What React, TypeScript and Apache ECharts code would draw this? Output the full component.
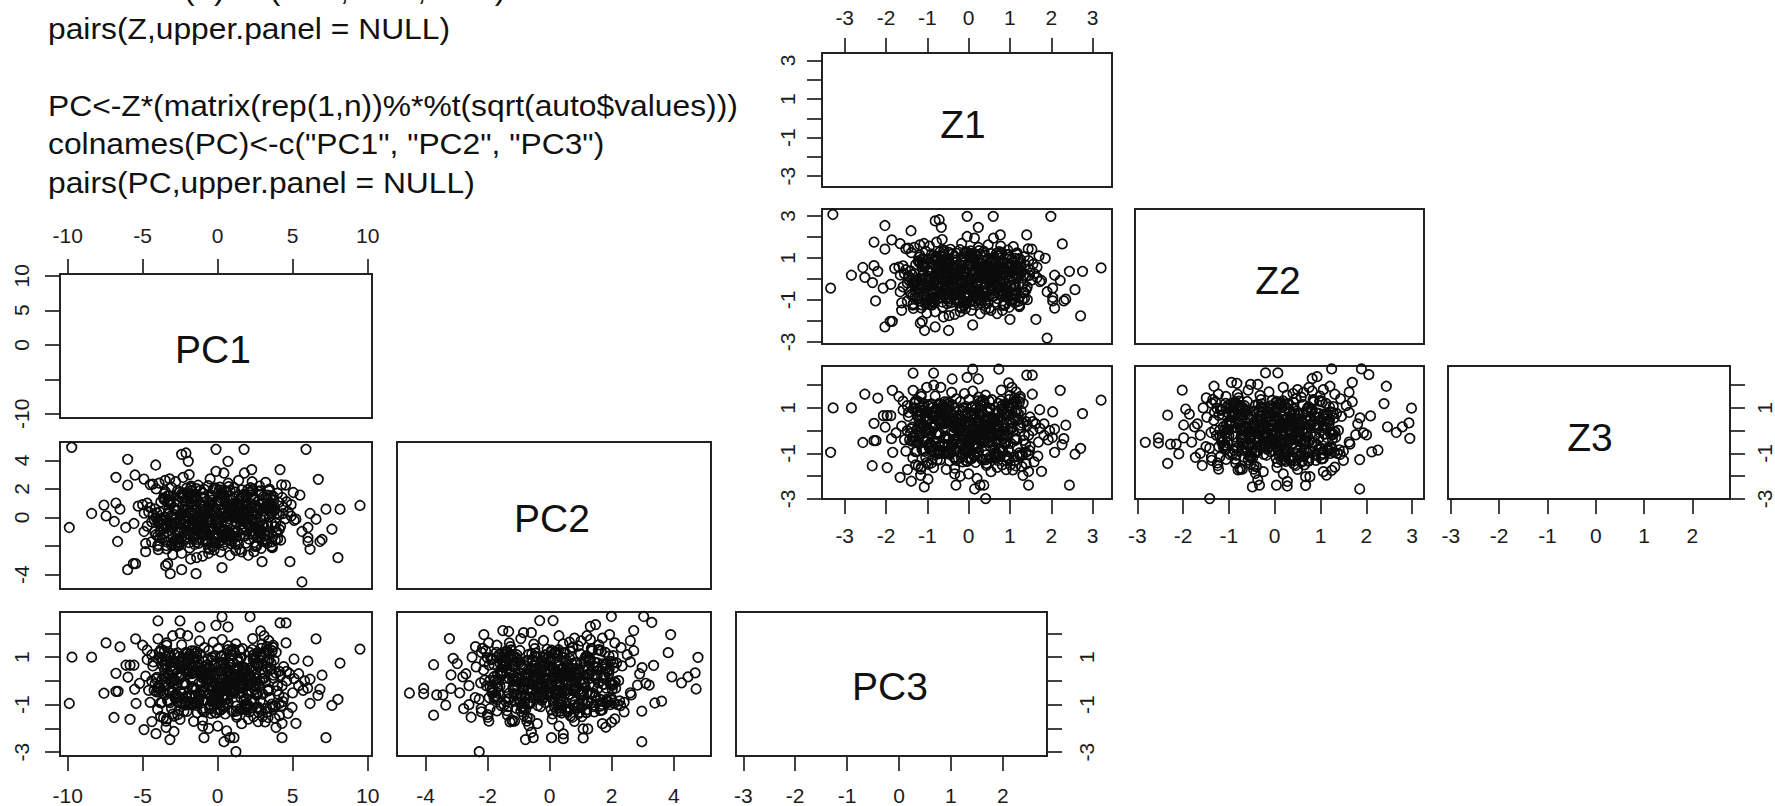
import React, { useEffect, useRef } from "react";
import * as echarts from "echarts";

const sqrtEigen = [2.96, 1.6, 1.0];

const codeLines = [
  'colnames(Z)<-c("Z1", "Z2", "Z3")',
  "pairs(Z,upper.panel = NULL)",
  "",
  "PC<-Z*(matrix(rep(1,n))%*%t(sqrt(auto$values)))",
  'colnames(PC)<-c("PC1", "PC2", "PC3")',
  "pairs(PC,upper.panel = NULL)",
];

// Estimated dense middle of the cloud (Z scale)
const coreZ1 = [
  -0.12,0.45,-0.83,0.07,1.12,-0.36,0.64,-1.27,0.22,-0.55,0.91,-0.04,0.33,-0.98,
  0.58,-0.21,1.38,-0.67,0.14,-1.09,0.41,0.02,-0.44,0.77,-1.41,0.26,-0.15,1.03,
  -0.72,0.51,-0.29,0.86,-0.09,-1.18,0.37,1.24,-0.51,0.18,-0.88,0.69,-0.33,0.05,
  1.47,-0.62,0.29,-1.33,0.48,-0.18,0.95,-0.77,0.11,-0.41,0.72,-1.02,0.35,-0.07,
  0.83,-0.25,0.16,-0.59,1.19,-1.22,0.54,-0.02,-0.93,0.39,-0.47,0.63,1.31,-0.11,
  0.24,-0.7,0.09,-1.46,0.88,-0.31,0.46,-0.85,1.07,-0.19,0.31,-0.53,0.67,-1.13,
  0.03,0.79,-0.38,-0.06,1.42,-0.79,0.2,-0.48,0.98,-1.05,0.56,-0.23,0.12,-0.65,
  1.15,-0.14,0.43,-1.37,0.74,-0.43,0.28,-0.91,0.6,-0.01,-0.57,1.27,-0.27,0.15,
  -1.15,0.52,-0.74,0.93,0.08,-0.34,0.7,-0.96,0.38,-0.16,1.09,-0.6,0.23,-1.3,
  0.49,-0.08,0.81,-0.45,0.17,1.35,-0.81,0.3,-0.2,-1.0,0.66,-0.39,0.04,0.89,
  -0.68,1.21,-0.13,0.42,-1.24,0.57,-0.3,0.1,-0.86,0.75,-0.52,1.01,0.25,-0.03,
  -1.11,0.61,-0.42,0.19,1.44,-0.75,0.34,-0.22,0.84,-0.94,0.06,-0.5,0.53,-1.39,
  1.17,-0.1,0.4,-0.63,0.71,-0.26,0.13,-1.07,0.96,-0.37,0.27,-0.8,1.29,-0.17,
  0.47,-0.56,0.01,-1.2,0.65,-0.32,0.85,-0.71,0.21,-0.05,1.05,-0.46,0.36,-0.9,
  0.59,-1.35,0.1,-0.24,0.78,-0.64,1.33,0.32,-0.11,-1.03,0.5,-0.4,0.16,0.92,
  -0.76,0.44,-0.07,1.11,-0.54,0.25,-1.16,0.68,-0.28,0.06,-0.84,0.87,-0.35,0.55,
  -0.15,1.23,-0.66,0.2,-1.29,0.39,-0.03,0.73,-0.49,0.13,-0.97,1.0,-0.21,0.62,
  -0.43,-1.43,0.31,0.8,-0.13,-0.73,0.46,1.39,-0.3,0.08,-0.58,0.9,-1.08,0.22,
  -0.19,0.56,-0.87,0.35,1.13,-0.09,-0.61,0.17,0.76,-1.25,0.43,-0.36,0.03,0.97,
  -0.78,0.28,-0.01,-0.47,1.26,0.64,-1.01,0.12,-0.24,0.82,-0.55,0.37,-0.69,0.51,
  -1.12,-0.84,0.92,-0.52,1.02,-0.98,0.66,-1.2,-0.64,0.84,-0.1,1.16,-0.74,
  0.3,-1.06,0.56,-0.88,-0.24,0.98,-0.42,0.18,-1.28,0.74,-0.6,1.08,0.44,
  -0.92,-0.3,0.62,-1.16,0.06,0.88,-0.7,-0.16,1.24,-0.5,0.38,-1.02,-0.78,
  0.7,0.2,-1.22,-0.36,1.12,-0.82,0.5,-0.04,-0.96,0.8,-0.58,0.14,-1.1,
  0.94,-0.26,-0.68,1.3,0.34,-1.32,-0.46,0.6,-0.9,0.02,1.04,-0.72,0.26,
  -1.04,-0.2,0.76,-0.54,1.18,-1.24,0.4,-0.8,0.1,0.86,-0.34,-1.14,0.54,
  -0.62,1.0,-0.12,-0.94,0.48,-1.3,0.68,-0.44,0.22,1.2,-0.76,-0.06,0.82,
  -1.08,0.32,-0.56,0.96,-0.86,-0.28,1.1,-1.18,0.58,0.12,-0.66,0.78,-0.38,
  -1.26,0.42,0.9,-0.48,-0.98,0.24,1.06,-0.72,-0.14,0.64,-1.0,0.36,-0.32,
  0.72,-0.84,1.14,-1.34,0.16,-0.52,0.52,-0.08,-1.06,0.99,-0.6,0.28,-0.24,
  -0.88,0.46,1.26,-0.4,-1.2,0.66,0.0,-0.7,0.84,-0.18,-1.12,0.38,1.02,
  -0.5,0.08,-0.92,0.74,-1.38,-0.3,0.56,1.16,-0.64,-0.02,0.92,-1.02,0.2,
  -0.42,-0.82,1.08,0.3,-1.22,0.62,-0.54,0.14,0.8,-0.96,-0.22,1.22,-0.74,
  0.5,-1.1,-0.34,0.94,0.04,-0.58,0.7,-1.3,0.26,-0.9,0.86,-0.12,-0.46,
  1.12,-1.16,0.4,-0.68,0.6,-0.28,-1.04,0.18,0.98,-0.8,-0.06,0.76,-1.26,
];
const coreZ2 = [
  0.31,-0.62,0.08,1.04,-0.27,0.53,-1.12,-0.05,0.77,-0.41,0.19,1.26,-0.83,0.42,
  -0.16,-1.31,0.66,0.02,-0.55,0.94,0.27,-0.73,1.41,-0.09,0.38,-1.0,0.59,-0.34,
  0.12,0.81,-0.47,-1.2,0.24,1.13,-0.68,0.46,-0.11,0.7,-0.92,0.05,-0.38,1.33,
  0.17,-0.78,0.55,-0.21,0.97,-1.38,0.34,-0.02,-0.59,0.63,1.09,-0.29,0.14,-0.87,
  0.48,-0.13,-1.06,0.85,0.22,-0.45,1.21,-0.66,0.03,0.39,-0.96,0.72,-0.24,-1.27,
  0.58,0.1,-0.36,1.46,-0.52,0.29,-0.07,0.9,-0.8,0.44,-1.15,0.16,-0.31,0.68,
  1.17,-0.58,-0.03,0.36,-0.99,0.51,-0.18,0.83,-1.35,0.07,0.25,-0.7,1.02,-0.43,
  0.6,-0.14,-0.85,0.2,1.3,-0.49,0.41,-1.08,-0.01,0.75,-0.26,0.33,-0.63,0.92,
  -1.23,0.13,0.5,-0.39,1.07,-0.76,0.28,-0.08,0.64,-0.5,-0.94,1.37,0.18,-0.2,
  0.43,-1.42,0.79,-0.33,0.06,-0.65,0.99,0.3,-0.12,-0.89,0.56,1.19,-0.44,0.09,
  -0.72,0.37,-1.1,0.21,-0.28,0.87,0.47,-0.57,1.1,-0.04,-1.18,0.65,0.15,-0.37,
  0.74,-0.82,0.26,-0.17,1.43,-0.6,0.04,-1.03,0.52,0.32,-0.48,0.96,-0.1,-0.75,
  1.24,0.4,-0.23,-1.33,0.61,0.11,-0.53,0.78,-0.91,0.35,-0.06,1.06,-0.4,0.23,
  -1.16,0.69,-0.3,0.01,0.88,-0.64,0.45,-0.19,-0.97,1.28,0.13,-0.51,0.57,-1.25,
  0.28,-0.15,0.82,-0.71,1.15,-0.35,0.19,-0.86,0.49,-0.02,-1.39,0.62,0.38,-0.56,
  1.0,-0.25,0.08,-0.79,0.54,1.35,-0.46,0.16,-1.05,0.73,-0.11,0.31,-0.67,0.89,
  -0.22,-1.29,0.44,0.05,-0.6,1.12,0.24,-0.42,0.71,-0.88,0.12,-0.32,1.39,0.5,
  -1.13,-0.09,0.34,-0.74,0.95,-0.16,0.59,-0.52,1.23,-1.0,0.2,0.41,-0.28,-0.81,
  0.67,0.03,-1.22,0.86,-0.37,0.27,1.05,-0.54,0.14,-0.93,0.46,-0.06,0.76,-0.69,
  0.36,1.18,-0.2,-1.07,0.55,0.1,-0.43,0.91,-0.77,0.22,-0.13,1.31,-0.58,0.4,
  0.96,-0.44,1.14,-0.86,0.62,-1.02,0.18,0.78,-0.3,-0.7,1.24,0.02,-0.92,
  0.5,-0.56,0.84,-1.1,0.34,1.02,-0.18,-0.78,0.68,-0.38,1.18,-0.96,0.1,
  -0.62,0.9,0.26,-1.06,0.72,-0.24,1.28,-0.48,-0.84,0.44,0.04,-1.14,1.08,
  -0.34,0.58,-0.74,0.14,0.98,-0.9,0.38,-0.12,-1.2,0.8,-0.52,1.2,0.22,
  -0.66,-0.02,1.1,-0.98,0.54,-0.28,0.74,-0.8,0.3,-1.08,0.92,-0.4,0.06,
  1.32,-0.6,0.46,-0.94,0.64,-0.14,-1.16,0.86,0.16,-0.72,1.06,-0.32,-0.5,
  0.28,-1.04,0.76,-0.2,0.52,-0.88,1.22,-0.08,-0.58,0.96,0.36,-1.12,-0.42,
  0.66,0.12,-0.76,1.16,-0.26,-0.98,0.42,0.82,-0.54,-1.22,0.2,1.0,-0.68,
  -0.06,0.56,-0.86,1.26,-0.36,0.08,-1.0,0.7,-0.46,0.32,0.94,-0.82,-0.16,
  1.12,-0.64,0.48,-1.18,0.24,0.84,-0.3,-0.92,0.6,-0.1,1.3,-0.74,0.4,
  -1.06,0.0,0.78,-0.5,1.04,-0.22,-0.84,0.34,-1.26,0.9,0.14,-0.56,0.62,
  -0.38,1.2,-0.96,0.5,-0.04,-0.7,0.98,0.28,-1.1,-0.28,0.74,-0.44,1.14,
  0.06,-0.88,0.44,-1.02,0.86,-0.18,0.58,-0.62,1.24,-0.34,-1.14,0.18,0.68,
  -0.78,0.38,1.08,-0.52,-0.12,0.92,-0.94,0.24,-0.66,1.18,0.54,-1.04,-0.24,
  0.8,-0.42,0.1,-0.86,1.02,0.3,-1.2,0.64,-0.58,0.16,1.28,-0.72,-0.08,
];
const coreZ3 = [
  -0.41,0.86,0.14,-1.23,0.52,-0.07,-0.73,1.33,0.28,-0.95,0.61,-0.19,1.07,-1.48,
  0.36,0.03,-0.58,0.92,-1.09,0.21,1.56,-0.33,-0.84,0.47,-0.12,0.74,-1.37,0.09,
  1.19,-0.52,0.31,-0.25,-1.02,0.66,0.17,1.41,-0.68,-0.04,0.83,-1.61,0.43,-0.3,
  -0.87,1.12,0.24,-0.46,0.58,-1.17,0.01,0.97,-0.62,1.68,-0.15,0.39,-1.29,0.71,
  -0.36,0.12,-0.79,1.26,0.49,-1.55,-0.09,0.8,-0.55,0.26,1.03,-0.98,0.33,-0.21,
  1.47,-0.7,0.06,0.63,-1.12,-0.43,0.92,0.19,-1.72,0.54,-0.28,1.15,-0.01,-0.82,
  0.4,1.78,-0.6,-1.33,0.23,0.77,-0.16,-0.93,1.37,0.1,-0.49,0.68,-1.06,0.29,
  -0.35,1.0,-1.44,0.15,0.56,-0.75,1.24,-0.1,0.44,-1.21,-0.24,0.87,0.05,-0.64,
  1.6,0.34,-0.89,-0.13,0.72,-1.65,0.22,1.09,-0.47,-0.03,0.6,-1.0,1.31,-0.31,
  0.16,-0.77,0.95,0.42,-1.39,-0.2,1.52,0.07,-0.57,0.81,-1.14,0.3,-0.39,1.18,
  -0.86,0.5,0.02,-1.27,0.65,-0.26,1.4,-0.66,0.18,-0.11,0.89,-1.5,0.37,-0.44,
  1.05,0.13,-0.8,0.57,-1.04,-0.06,1.29,-0.53,0.27,0.75,-1.19,-0.34,0.98,0.08,
  -0.71,1.63,-0.17,0.46,-1.31,0.2,0.69,-0.91,1.11,-0.38,-0.02,0.59,-1.58,0.32,
  -0.5,0.84,1.36,-0.23,-1.08,0.11,0.73,-0.65,0.41,-0.14,1.22,-0.96,0.25,-1.42,
  0.55,-0.29,1.74,0.04,-0.78,0.9,-0.42,-1.25,0.35,0.64,-0.08,1.14,-0.59,-1.11,
  0.48,0.15,-0.85,1.44,-0.32,0.76,-1.69,-0.18,0.28,1.02,-0.45,0.09,-1.16,0.62,
  -0.69,1.27,0.38,-0.05,-0.92,0.51,-1.35,0.17,0.94,-0.27,-0.61,1.55,0.01,-1.01,
  0.7,-0.4,0.23,1.08,-0.83,-0.12,0.45,-1.46,0.82,-0.22,0.31,-0.56,1.17,-0.76,
  0.06,-1.2,0.67,1.34,-0.37,0.19,-0.99,0.53,-0.09,0.88,-1.53,0.26,-0.48,1.01,
  -0.15,0.4,-0.72,1.2,0.12,-1.1,-0.3,0.78,0.33,-0.88,0.6,-0.04,-1.28,0.96,
  0.24,-0.94,0.72,1.26,-0.56,0.06,-1.14,0.48,1.04,-0.34,-0.8,0.88,-1.02,
  -0.18,0.6,1.36,-0.66,0.3,-1.24,-0.08,0.96,-0.44,0.16,-0.9,1.16,0.42,
  -0.74,-1.3,0.54,1.0,-0.26,-0.6,0.78,0.1,-1.08,0.36,1.22,-0.5,-0.14,
  0.84,-0.98,0.2,-0.38,1.3,0.66,-1.18,-0.7,0.02,0.92,-0.3,0.5,-0.86,
  1.1,-0.48,0.28,-1.04,0.74,-0.22,-1.34,0.44,1.18,-0.62,0.12,-0.96,0.58,
  -0.06,1.28,-0.78,0.34,-1.12,0.82,-0.4,0.22,1.06,-0.54,-1.22,0.68,-0.16,
  0.98,0.08,-0.88,0.52,-0.32,1.24,-1.0,0.4,-0.64,0.76,-1.28,0.18,1.12,
  -0.46,-0.1,0.62,-0.84,1.02,0.26,-1.16,0.9,-0.24,-0.7,0.46,1.32,-0.58,
  0.04,-1.06,0.7,-0.36,1.14,-0.92,0.32,-0.12,0.86,-1.2,0.56,-0.52,-0.82,
  1.2,0.14,-0.42,0.94,-1.1,0.38,-0.68,0.64,-0.02,1.08,-0.94,-0.28,0.5,
  -1.26,0.8,0.24,-0.56,1.26,-0.2,-0.76,0.42,0.98,-1.02,0.1,-0.34,0.72,
  -0.9,1.04,0.3,-1.14,-0.46,0.6,-0.08,1.18,-0.66,0.2,-1.32,0.84,-0.3,
  0.54,-0.86,0.0,1.1,-0.5,-1.08,0.36,0.76,-0.16,-0.72,0.92,-0.98,0.46,
  1.3,-0.38,0.12,-1.2,0.66,-0.6,0.28,1.0,-0.04,-0.88,0.52,-0.26,-1.04,
  0.82,0.18,-0.44,1.16,-0.78,0.4,-1.16,-0.12,0.7,-0.54,1.06,0.06,-0.92,
];

// Visible outer points
const outerPC1PC2 = [
  [-9.73,4.91],[-0.11,4.77],[1.76,4.77],[5.89,4.77],[-6,4.07],[-4.13,3.67],[-2.4,4.42],[-2.11,4.51],[-1.96,3.93],[0.69,3.93],
  [4.16,3.35],[-0.11,3.23],[0.42,3.11],[2.27,3.35],[1.78,3.11],[-6.78,2.81],[-5.51,2.97],[-4.91,2.69],[6.71,2.67],[-6,2.27],
  [4.53,2.27],[3.2,2.46],[5.49,1.57],[5.04,1.75],[-7.58,0.87],[-6.78,1.01],[-8.4,0.28],[-7.44,0.12],[-6.51,0.58],[-6.89,-0.28],
  [-9.89,-0.7],[-6.13,-0.7],[-5.58,-0.42],[-6.67,-1.68],[-4.91,-0.98],[-4.8,-1.82],[-4.8,-2.39],[-3.96,-2.25],[-6,-3.65],[-5.62,-3.23],
  [-5.47,-3.23],[-3.47,-3.37],[-3.33,-3.23],[-3.16,-3.93],[-2.4,-3.65],[-1.44,-3.93],[0.29,-3.51],[2.96,-3.09],[4.82,-3.09],[5.62,-4.51],
  [8.02,-2.81],[7.22,0.58],[8.16,0.58],[9.49,0.84],[6.16,0.28],[6.56,-0.12],[7.62,-0.82],[6.02,-0.7],[5.62,-0.98],[6.02,-1.4],
  [6.16,-2.22],[6.96,-1.54],[6.82,-1.68],[6.02,-1.68],[5.22,-0.12],[0.82,-2.64],[2.04,-2.64],[2.42,-2.39],[3.64,-2.11],
  [3.4,1.9],[3.7,1.5],[4,1.7],[4.3,1.4],[4.6,1.1],[4.9,0.9],[4.4,0.7],[4.7,0.4],[4.1,0.2],[4.5,-0.1],
  [4.9,0.1],[5.1,-0.2],[3.6,-0.4],[4.2,-0.6],[3.9,-1],[4,-1.5],[3.6,-1.7],[3.4,-1.2],[3.5,0.9],[3.8,0.5],
  [3.6,-2],[3.3,-1.8],[-4.5,2.3],[-4.1,2],[-3.9,2.4],[-3.5,2.6],[-3.2,2.7],[-2.8,2.5],[-2.3,2.8],[-1.9,3],
  [-5,0.9],[-4.7,1],[-4.5,0.7],[-5.3,0.8],[-4.6,0.4],[-4.9,0.3],[-4.3,0.2],[-4.4,-0.3],[-4.7,-0.6],[-4.2,-1],
  [-4,-1.3],[-4.4,-1.7],[-4,-2],[-3.4,-2.2],[-3,-2.6],[-2.4,-2.5],[-1.8,-2.9],[-1.4,-2.8],[-1,-2.7],[-0.6,-2.5],
  [0.2,-2.4],[1.2,-2.3],[1.6,-2.4],[2.6,-2],[-0.5,2.7],[0.7,2.4],[1.4,2.6],[2.3,2.5],[2.8,2.2],
];
const outerPC1PC3 = [
  [0.29,2.7],[2.16,2.7],[-3.98,2.53],[-2.51,2.53],[4.16,2.44],[4.56,2.44],[-1.18,2.27],[-0.11,2.34],[0.69,2.27],[2.87,2.1],
  [-7.44,1.6],[-6.51,1.43],[-5.47,1.77],[-3.98,1.77],[6.56,1.77],[4.56,1.6],[9.49,1.34],[-9.71,1],[-8.4,1],[5.09,0.92],
  [6.02,0.83],[8.16,0.75],[-6.78,0.32],[6.96,0.24],[6.16,0.07],[-6.11,0.66],[-5.84,0.66],[-5.58,0.66],[-5.98,0.16],[-7.58,-0.52],
  [-6.78,-0.44],[-6.64,-0.44],[-5.53,-0.35],[6.82,-0.35],[8.02,-0.78],[7.62,-1.03],[6.69,-0.61],[6.16,-0.95],[-9.89,-0.95],[-5.44,-0.95],
  [-6.91,-1.54],[-5.84,-1.62],[-4.38,-1.71],[-4.91,-2.05],[-4.11,-2.22],[-2.91,-2.13],[-3.18,-2.47],[-0.91,-2.39],[0.42,-2.56],[0.82,-2.39],
  [1.09,-2.39],[1.22,-2.98],[4.29,-2.39],[7.22,-2.39],[3.89,-1.96],[4.29,-1.79],[5.22,-1.79],[3.36,-1.54],[4.69,-1.37],[4.96,-1.12],
  [4.11,-0.95],[2.69,-1.71],[-2.51,-1.62],[-3.44,-1.96],
  [3.7,1.5],[3.9,1.2],[3.4,1.7],[3.1,1.9],[4.4,0.6],[4.8,0.3],[4.1,0.4],[4.6,0],[4.3,-0.2],[5.1,0.1],
  [5.4,-0.2],[5.7,-0.4],[5,-0.5],[4.4,-0.7],[3.7,-1.1],[3.3,-1.3],[4.6,0.4],[5.4,0.3],[5.8,0],[6,-0.3],
  [-5,1.5],[-4.7,1.3],[-4.4,1.1],[-4.7,0.9],[-4.3,0.8],[-3.9,1.2],[-3.4,1.5],[-3,1.9],[-2.5,2],[-2,1.9],
  [-5.2,-0.1],[-4.8,0.2],[-4.6,-0.4],[-4.4,0],[-4.5,-0.9],[-4,-1.2],[-3.8,-1.5],[-3.4,-1.6],[-3,-1.4],[-1.6,-1.7],
  [-1,-1.9],[-0.6,-2],[0,-1.9],[0.6,-2.1],[1.6,-1.8],[2.4,-1.5],
];
const outerPC2PC3 = [
  [1.99,2.71],[3.03,2.71],[3.29,2.46],[-0.32,2.54],[0.11,2.54],[1.48,2.37],[1.31,2.29],[2.71,2.12],[3.9,1.95],[1.93,1.95],
  [-3.23,1.78],[-2.12,1.95],[-1.51,2.12],[-1.32,2.08],[-0.84,2.03],[-0.59,2.03],[-2.39,1.44],[2.6,1.69],[2.71,1.27],[3.82,1.19],
  [4.78,0.99],[-3.11,0.95],[-2.98,0.73],[-3.74,0.68],[3.35,0.65],[2.98,0.56],[3.94,0.17],[4.25,-0.08],[4.46,0.17],[4.69,0.34],
  [4.72,-0.34],[3.21,-0.18],[2.83,-0.18],[2.63,-0.59],[3.61,-0.85],[3.39,-0.93],[2.97,-1.27],[-3.74,-1.44],[-3.35,-1.02],[-4.52,-0.51],
  [-4.06,-0.32],[-4.06,-0.54],[-3.64,-0.59],[-3.44,-0.59],[-3.18,-0.32],[-2.8,0.17],[-3.18,0.25],[-2.37,0.59],[-2.77,-1.17],[-2.53,-1.53],
  [-1.99,-1.53],[-1.96,-1.69],[-1.13,-1.69],[-0.67,-1.88],[-0.78,-2.47],[-0.53,-2.39],[0.06,-2.39],[0.44,-2.23],[0.44,-2.43],[1.08,-2.4],
  [1.08,-2.02],[1.23,-2.02],[1.81,-1.95],[2.97,-2.56],[-2.27,-2.98],[1.99,-1.74],[-0.59,-2.16],
  [-2.7,0.3],[-2.5,1],[-2.2,1.2],[-2.6,-0.2],[-2.9,-0.5],[-2.4,-0.7],[-2.6,-1],[-2.2,-1.3],[-1.7,1.5],[-1.3,1.6],
  [-2.1,0.8],[2.6,0.8],[2.9,0.3],[3.1,-0.1],[2.6,-0.5],[2.4,-0.9],[2.4,-1.3],[2.1,-1.6],[1.7,-1.8],[2.5,1.1],
  [2.3,1.4],[2.1,1.6],[1.7,1.8],[1.2,1.9],[0.8,1.8],[0.3,1.9],[-0.2,1.7],[-1.2,-1.7],[-0.4,-1.8],[0.3,-1.9],[0.8,-1.7],
];

const ticksPC1 = [-10, -5, 0, 5, 10];
const ticksPC2X = [-4, -2, 0, 2, 4];
const ticksPC2Y = [-4, -2, 0, 2, 4];
const labelsPC2Y = [-4, 0, 2, 4];
const labelsPC1Y = [-10, 0, 5, 10];
const ticksLow = [-3, -2, -1, 0, 1, 2];
const ticksFull = [-3, -2, -1, 0, 1, 2, 3];
const labelsOdd = [-3, -1, 1];
const labelsOddFull = [-3, -1, 1, 3];

const FONT = "'Liberation Sans', Arial, sans-serif";
const INK = "#222";

type Side = { pos: string; ticks: number[]; labels: number[]; margin: number } | null;
type Panel = {
  box: [number, number, number, number];
  x: [number, number];
  y: [number, number];
  xa: Side;
  ya: Side;
  points?: number[][];
  name?: string;
  namePos?: [number, number];
};

function axisOf(side: Side, idx: number, dom: [number, number], isY: boolean) {
  const tick = side
    ? { show: true, inside: false, length: 15, customValues: side.ticks, lineStyle: { color: INK, width: 1.7 } }
    : { show: false };
  const label = side
    ? {
        show: true,
        customValues: side.labels,
        margin: side.margin,
        fontSize: 21,
        fontFamily: FONT,
        color: "#1c1c1c",
        rotate: isY ? 90 : 0,
      }
    : { show: false };
  return {
    type: "value",
    gridIndex: idx,
    min: dom[0],
    max: dom[1],
    position: side ? side.pos : isY ? "left" : "bottom",
    axisLine: { show: false, onZero: false },
    splitLine: { show: false },
    axisTick: tick,
    axisLabel: label,
  };
}

function combine(outer: number[][], cx: number[], cy: number[], kx: number, ky: number, toZ: boolean) {
  // outer points are on the PC scale, core points on the Z scale
  const o1 = toZ ? 1 / kx : 1;
  const o2 = toZ ? 1 / ky : 1;
  const c1 = toZ ? 1 : kx;
  const c2 = toZ ? 1 : ky;
  return [
    ...cx.map((v, i) => [v * c1, cy[i] * c2]),
    ...outer.map((p) => [p[0] * o1, p[1] * o2]),
  ];
}

const [k1, k2, k3] = sqrtEigen;
const pairPC12 = combine(outerPC1PC2, coreZ1, coreZ2, k1, k2, false);
const pairPC13 = combine(outerPC1PC3, coreZ1, coreZ3, k1, k3, false);
const pairPC23 = combine(outerPC2PC3, coreZ2, coreZ3, k2, k3, false);
const pairZ12 = combine(outerPC1PC2, coreZ1, coreZ2, k1, k2, true);
const pairZ13 = combine(outerPC1PC3, coreZ1, coreZ3, k1, k3, true);
const pairZ23 = combine(outerPC2PC3, coreZ2, coreZ3, k2, k3, true);

const pcX1: [number, number] = [-10.51, 10.29];
const pcX2: [number, number] = [-4.92, 5.2];
const pcX3: [number, number] = [-3.14, 2.85];
const pcY1: [number, number] = [-10.6, 10.25];
const pcY2: [number, number] = [-5.0, 5.28];
const pcY3: [number, number] = [-3.16, 2.9];
const zX1: [number, number] = [-3.55, 3.47];
const zX2: [number, number] = [-3.05, 3.26];
const zX3: [number, number] = [-3.06, 2.78];
const zY1: [number, number] = [-3.56, 3.39];
const zY2: [number, number] = [-3.1, 3.33];
const zY3: [number, number] = [-3.0, 2.84];

const panels: Panel[] = [
  { box: [60, 274, 372, 418], x: pcX1, y: pcY1, xa: { pos: "top", ticks: ticksPC1, labels: ticksPC1, margin: 28 }, ya: { pos: "left", ticks: ticksPC1, labels: labelsPC1Y, margin: 28 }, name: "PC1", namePos: [213, 349] },
  { box: [60, 442, 372, 589], x: pcX1, y: pcY2, xa: null, ya: { pos: "left", ticks: ticksPC2Y, labels: labelsPC2Y, margin: 28 }, points: pairPC12 },
  { box: [397, 442, 711, 589], x: pcX2, y: pcY2, xa: null, ya: null, name: "PC2", namePos: [552, 518] },
  { box: [60, 612, 372, 756], x: pcX1, y: pcY3, xa: { pos: "bottom", ticks: ticksPC1, labels: ticksPC1, margin: 29 }, ya: { pos: "left", ticks: ticksLow, labels: labelsOdd, margin: 28 }, points: pairPC13 },
  { box: [397, 612, 711, 756], x: pcX2, y: pcY3, xa: { pos: "bottom", ticks: ticksPC2X, labels: ticksPC2X, margin: 29 }, ya: null, points: pairPC23 },
  { box: [736, 612, 1047, 756], x: pcX3, y: pcY3, xa: { pos: "bottom", ticks: ticksLow, labels: ticksLow, margin: 29 }, ya: { pos: "right", ticks: ticksLow, labels: labelsOdd, margin: 29 }, name: "PC3", namePos: [890, 686] },
  { box: [822, 53, 1112, 187], x: zX1, y: zY1, xa: { pos: "top", ticks: ticksFull, labels: ticksFull, margin: 25 }, ya: { pos: "left", ticks: ticksFull, labels: labelsOddFull, margin: 24 }, name: "Z1", namePos: [963, 124] },
  { box: [822, 209, 1112, 344], x: zX1, y: zY2, xa: null, ya: { pos: "left", ticks: ticksFull, labels: labelsOddFull, margin: 24 }, points: pairZ12 },
  { box: [1135, 209, 1424, 344], x: zX2, y: zY2, xa: null, ya: null, name: "Z2", namePos: [1278, 280] },
  { box: [822, 366, 1112, 499], x: zX1, y: zY3, xa: { pos: "bottom", ticks: ticksFull, labels: ticksFull, margin: 26 }, ya: { pos: "left", ticks: ticksLow, labels: labelsOdd, margin: 24 }, points: pairZ13 },
  { box: [1135, 366, 1424, 499], x: zX2, y: zY3, xa: { pos: "bottom", ticks: ticksFull, labels: ticksFull, margin: 26 }, ya: null, points: pairZ23 },
  { box: [1448, 366, 1737, 499], x: zX3, y: zY3, xa: { pos: "bottom", ticks: ticksLow, labels: ticksLow, margin: 26 }, ya: { pos: "right", ticks: ticksLow, labels: labelsOdd, margin: 24 }, name: "Z3", namePos: [1590, 437] },
];

export default function App() {
  const ref = useRef<HTMLDivElement>(null);
  useEffect(() => {
    document.body.style.margin = "0";
    const chart = echarts.init(ref.current!, undefined, { renderer: "svg" });
    const graphics: any[] = [];
    codeLines.forEach((t, i) => {
      if (!t) return;
      graphics.push({
        type: "text",
        x: 48,
        y: -10 + i * 38.5,
        scaleX: 1.06,
        style: { text: t, font: `30px ${FONT}`, fill: "#111", verticalAlign: "middle" },
      });
    });
    panels.forEach((p) => {
      if (p.name)
        graphics.push({
          type: "text",
          x: p.namePos![0],
          y: p.namePos![1],
          style: { text: p.name, font: `39px ${FONT}`, fill: "#111", align: "center", verticalAlign: "middle" },
        });
    });
    const series: any[] = [];
    panels.forEach((p, i) => {
      if (p.points)
        series.push({
          type: "scatter",
          xAxisIndex: i,
          yAxisIndex: i,
          data: p.points,
          symbol: "circle",
          symbolSize: 9.5,
          silent: true,
          itemStyle: { color: "rgba(0,0,0,0)", borderColor: "#0c0c0c", borderWidth: 1.7, opacity: 1 },
        });
    });
    chart.setOption({
      animation: false,
      backgroundColor: "#fff",
      tooltip: { show: false },
      grid: panels.map((p) => ({
        left: p.box[0],
        top: p.box[1],
        width: p.box[2] - p.box[0],
        height: p.box[3] - p.box[1],
        show: true,
        borderColor: "#222",
        borderWidth: 2,
        backgroundColor: "transparent",
      })),
      xAxis: panels.map((p, i) => axisOf(p.xa, i, p.x, false)),
      yAxis: panels.map((p, i) => axisOf(p.ya, i, p.y, true)),
      series,
      graphic: graphics,
    });
    return () => chart.dispose();
  }, []);
  return <div ref={ref} style={{ position: "absolute", left: 0, top: 0, width: 1775, height: 806, background: "#fff" }} />;
}
